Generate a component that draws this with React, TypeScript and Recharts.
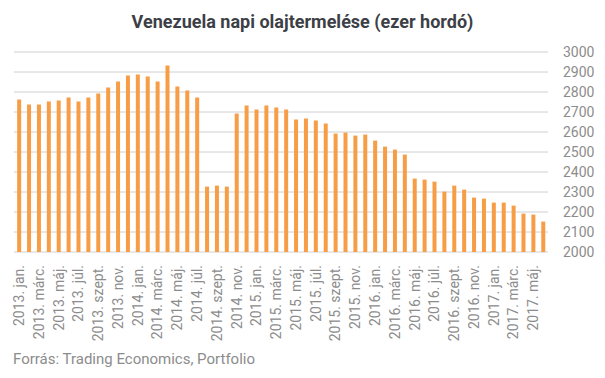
import React from "react";
import { BarChart, Bar, XAxis, YAxis, CartesianGrid } from "recharts";

const MONTHS = ["jan.", "febr.", "márc.", "ápr.", "máj.", "jún.", "júl.", "aug.", "szept.", "okt.", "nov.", "dec."];
const YEARS = [2013, 2014, 2015, 2016, 2017];

// thousand barrels per day, Jan 2013 - Jun 2017
const OUTPUT = [
  2762, 2737, 2737, 2752, 2757, 2772, 2752, 2772, 2792, 2822, 2852, 2882,
  2887, 2877, 2852, 2932, 2827, 2807, 2772, 2327, 2332, 2327, 2692, 2732,
  2712, 2732, 2722, 2712, 2662, 2667, 2657, 2642, 2592, 2597, 2582, 2587,
  2557, 2527, 2512, 2487, 2367, 2362, 2352, 2302, 2332, 2312, 2272, 2267,
  2247, 2247, 2232, 2192, 2187, 2152,
];

const Y_TICKS = [2000, 2100, 2200, 2300, 2400, 2500, 2600, 2700, 2800, 2900, 3000];

const labels = YEARS.flatMap((y) => MONTHS.map((m) => `${y}. ${m}`));
const data = OUTPUT.map((v, i) => ({ month: labels[i], value: v }));

const FONT = "Roboto, 'Noto Sans', sans-serif";
const GREY = "#8c8c8c";

function MonthTick({ x, y, payload }: any) {
  return (
    <text
      transform={`translate(${x},${y + 5}) rotate(-90)`}
      textAnchor="end"
      dy="0.36em"
      fontSize={14}
      fill={GREY}
      fontFamily={FONT}
    >
      {payload.value}
    </text>
  );
}

export default function App() {
  return (
    <div style={{ position: "absolute", left: 0, top: 0, width: 605, height: 378, background: "#fff", fontFamily: FONT }}>
      <div
        style={{
          position: "absolute", top: 11, left: 0, width: 605, textAlign: "center",
          fontSize: 18, fontWeight: 700, color: "#3d3f47",
        }}
      >
        Venezuela napi olajtermelése (ezer hordó)
      </div>
      <BarChart
        width={605}
        height={378}
        data={data}
        margin={{ top: 52, right: 7, bottom: 26, left: 14 }}
        barCategoryGap="32%"
      >
        <CartesianGrid vertical={false} stroke="#d0d0d0" strokeWidth={1} />
        <XAxis
          dataKey="month"
          interval={1}
          height={100}
          axisLine={false}
          tickLine={false}
          tick={<MonthTick />}
        />
        <YAxis
          orientation="right"
          domain={[2000, 3000]}
          ticks={Y_TICKS}
          interval={0}
          width={50}
          axisLine={false}
          tickLine={false}
          tickMargin={9}
          tick={{ fontSize: 14, fill: GREY, fontFamily: FONT, textAnchor: "start" }}
        />
        <Bar dataKey="value" fill="#f69d46" isAnimationActive={false} />
      </BarChart>
      <div style={{ position: "absolute", left: 13, top: 350, fontSize: 15, color: GREY }}>
        Forrás: Trading Economics, Portfolio
      </div>
    </div>
  );
}
